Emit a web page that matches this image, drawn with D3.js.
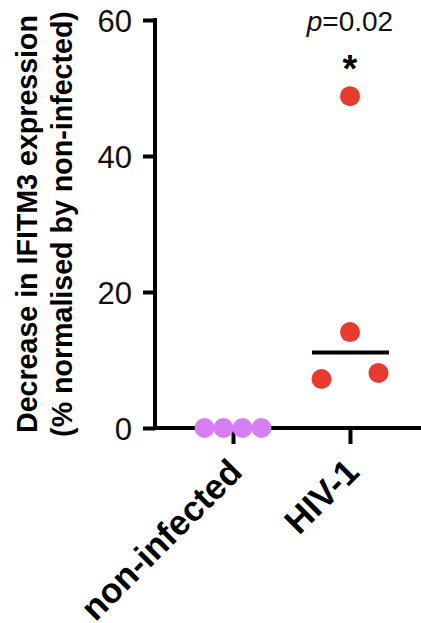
<!DOCTYPE html>
<html>
<head>
<meta charset="utf-8">
<script src="https://cdn.jsdelivr.net/npm/d3@7"></script>
<style>
  html, body { margin: 0; padding: 0; background: #fff; }
  #container { width: 421px; height: 623px; }
  text { font-family: "Liberation Sans", Arial, Helvetica, sans-serif; }
</style>
</head>
<body>
<div id="container"></div>
<script>
// 数据
const groups = ["non-infected", "HIV-1"];
const nonInfected = [0, 0, 0, 0];
const hiv1 = [48.8, 14.1, 7.2, 8.1];
const yTicks = [0, 20, 40, 60];
const pLabel = "p=0.02";

const width = 421;
const height = 623;
const marginTop = 20;
const marginLeft = 155;
const y0 = 428;

const svg = d3.select("#container")
  .append("svg")
  .attr("width", width)
  .attr("height", height)
  .attr("viewBox", [0, 0, width, height]);

// 比例尺
const x = d3.scalePoint()
  .domain(groups)
  .range([marginLeft, 428])
  .padding(0.667);

const y = d3.scaleLinear()
  .domain([0, 60])
  .range([y0, marginTop]);

// 纵轴
svg.append("g")
  .attr("transform", `translate(${marginLeft},0)`)
  .call(d3.axisLeft(y).tickValues(yTicks).tickSize(12).tickPadding(11).tickSizeOuter(0))
  .call(g => g.select(".domain").attr("stroke-width", 4).attr("d", `M0,${marginTop - 2}V${y0}`))
  .call(g => g.selectAll(".tick line").attr("stroke-width", 4))
  .call(g => g.selectAll(".tick text")
    .attr("font-size", 31)
    .attr("font-family", "Liberation Sans, Arial, sans-serif")
    .attr("fill", "#111")
    .attr("dy", "0.36em"));

// 横轴
svg.append("g")
  .attr("transform", `translate(0,${y0})`)
  .call(d3.axisBottom(x).tickSize(16).tickSizeOuter(0).tickFormat(() => ""))
  .call(g => g.select(".domain").attr("stroke-width", 4).attr("d", `M${marginLeft - 2},0H${width}`))
  .call(g => g.selectAll(".tick line").attr("stroke-width", 4));

// 横轴类别标签（旋转 -45°）
svg.append("g")
  .selectAll("text")
  .data(groups)
  .join("text")
  .attr("transform", d => `translate(${x(d) + 11},${y0 + 46}) rotate(-45)`)
  .attr("text-anchor", "end")
  .attr("font-size", 35)
  .attr("font-weight", "bold")
  .attr("fill", "#000")
  .text(d => d);

// 纵轴标题
const yTitle = svg.append("text")
  .attr("transform", `translate(37,224) rotate(-90)`)
  .attr("text-anchor", "middle")
  .attr("font-size", 28.6)
  .attr("font-weight", "bold")
  .attr("fill", "#000");
yTitle.append("tspan").attr("x", 0).attr("dy", 0).text("Decrease in IFITM3 expression");
yTitle.append("tspan").attr("x", 0).attr("dy", 35).text("(% normalised by non-infected)");

// 散点的水平散开：数值接近（会重叠）的点按组内间距左右展开
function spread(values, gap) {
  const r = 10;
  const idx = values.map((v, i) => i).sort((a, b) => values[a] - values[b]);
  const offsets = new Array(values.length).fill(0);
  let cluster = [];
  const flush = () => {
    cluster.forEach((k, j) => { offsets[k] = (j - (cluster.length - 1) / 2) * gap; });
    cluster = [];
  };
  idx.forEach(i => {
    if (cluster.length && Math.abs(y(values[i]) - y(values[cluster[cluster.length - 1]])) > 2 * r) flush();
    cluster.push(i);
  });
  flush();
  return offsets;
}

const series = [
  { group: groups[0], values: nonInfected, color: "#d67ff5", gap: 19 },
  { group: groups[1], values: hiv1, color: "#e83a2f", gap: 57 }
];

series.forEach(s => {
  const off = spread(s.values, s.gap);
  svg.append("g")
    .attr("fill", s.color)
    .selectAll("circle")
    .data(s.values)
    .join("circle")
    .attr("cx", (d, i) => x(s.group) + off[i])
    .attr("cy", d => y(d))
    .attr("r", 10);
});

// 中位数线
const med = d3.median(hiv1);
svg.append("line")
  .attr("x1", x(groups[1]) - 38)
  .attr("x2", x(groups[1]) + 39)
  .attr("y1", y(med))
  .attr("y2", y(med))
  .attr("stroke", "#000")
  .attr("stroke-width", 4);

// 显著性标注
const pText = svg.append("text")
  .attr("x", x(groups[1]))
  .attr("y", 31)
  .attr("text-anchor", "middle")
  .attr("font-size", 28)
  .attr("fill", "#111");
pText.append("tspan").attr("font-style", "italic").text(pLabel.slice(0, 1));
pText.append("tspan").text(pLabel.slice(1));

svg.append("text")
  .attr("x", x(groups[1]))
  .attr("y", 82)
  .attr("text-anchor", "middle")
  .attr("font-size", 38)
  .attr("font-weight", "bold")
  .attr("fill", "#000")
  .text("*");
</script>
</body>
</html>
